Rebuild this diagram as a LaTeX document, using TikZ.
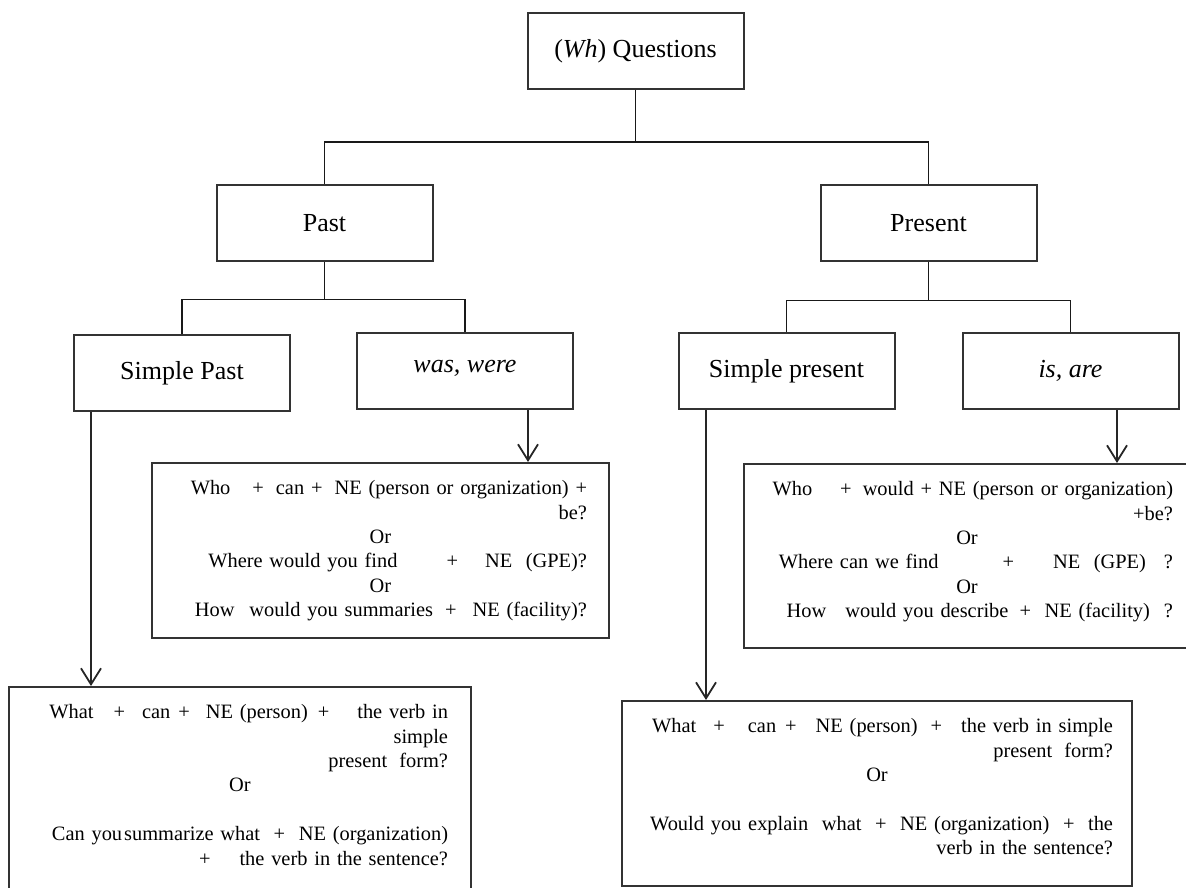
\documentclass[tikz,border=0pt]{standalone}
\usepackage{fontspec}
\setmainfont{Liberation Serif}
\usetikzlibrary{arrows.meta}

\begin{document}
\begin{tikzpicture}[x=0.5pt, y=-0.5pt,
    level/.style={rectangle, draw=black!80, line width=1pt, minimum width=108pt, minimum height=38pt, inner sep=0pt, align=center, font=\fontsize{13}{15}\selectfont},
    qbox/.style={rectangle, draw=black!80, line width=1pt, anchor=north, align=right, inner ysep=8.3pt, text height=7.5pt, font=\fontsize{10.2}{12.2}\selectfont},
    link/.style={line width=0.9pt, black!90},
    arrow/.style={-{Straight Barb[length=8pt, width=10pt]}, line width=0.9pt, black!85}]

    \clip (0,0) rectangle (1186,887);

    % Root
    \node[level] (root) at (635.5,51) {(\textit{Wh}) Questions};

    % Tense
    \node[level] (past) at (324.5,223.5) {Past};
    \node[level] (present) at (928.5,223.5) {Present};

    % Verb forms
    \node[level] (spast) at (182,373) {Simple Past};
    \node[level] (waswere) at (465,371) {\raisebox{4.5pt}{\textit{was, were}}};
    \node[level] (spres) at (786.5,371) {Simple present};
    \node[level] (isare) at (1070.5,371) {\textit{is, are}};

    % Question patterns
    \node[qbox, text width=206.5pt, inner xsep=11pt, text depth=63.2pt] (qwas) at (380.5,462) {%
        \mbox{Who\hspace{11pt}+\hspace{6pt}can +\hspace{6pt}NE (person or organization) +}\\
        be?\\
        \makebox[\linewidth]{Or}\\
        \mbox{Where would you find\hspace{24.5pt}+\hspace{13.5pt}NE\ \ (GPE)?}\\
        \makebox[\linewidth]{Or}\\
        \mbox{How\hspace{7.5pt}would you summaries\hspace{6pt}+\hspace{8pt}NE (facility)?}};

    \node[qbox, text width=206pt, inner xsep=8.5pt, text depth=67.7pt] (qis) at (967,463) {%
        \mbox{Who\hspace{14pt}+\hspace{5.5pt}would + NE (person or organization)}\\
        +be?\\
        \makebox[\linewidth]{Or}\\
        \mbox{Where can we find\hspace{32pt}+\hspace{19.5pt}NE\ \ (GPE)\hspace{9pt}?}\\
        \makebox[\linewidth]{Or}\\
        \mbox{How\hspace{9.5pt}would you describe\hspace{5.5pt}+\ \ NE (facility)\hspace{7pt}?}};

    \node[qbox, text width=208pt, inner xsep=11.5pt, text depth=79.7pt] (qspast) at (240,686) {%
        \mbox{What\hspace{10pt}+\hspace{8.5pt}can\hspace{4pt}+\hspace{8pt}NE (person)\hspace{5pt}+\hspace{14pt}the verb in}\\
        simple\\
        \mbox{present\hspace{6pt}form?}\\
        \makebox[\linewidth]{Or}\\[12.2pt]
        \mbox{Can you\hspace{1pt}summarize what\ \ +\ \ NE (organization)}\\
        \mbox{+\hspace{14.5pt}the verb in the sentence?}};

    \node[qbox, text width=236pt, inner xsep=9.5pt, text depth=68.2pt] (qspres) at (877,700) {%
        \mbox{What\hspace{8.5pt}+\hspace{11.5pt}can\hspace{4.5pt}+\hspace{9.5pt}NE (person)\hspace{6.5pt}+\hspace{9.5pt}the verb in simple}\\
        \mbox{present\hspace{6pt}form?}\\
        \makebox[\linewidth]{Or}\\[12.2pt]
        \mbox{Would you explain\ \ what\ \ +\ \ NE (organization)\ \ +\ \ the}\\
        \mbox{verb in the sentence?}};

    % Tree links
    \draw[link] (root.south) -- ++(0,52) -| (past.north);
    \draw[link] (root.south) -- ++(0,52) -| (present.north);
    \draw[link] (past.south) -- ++(0,37) -| (spast.north);
    \draw[link] (past.south) -- ++(0,37) -| (waswere.north);
    \draw[link] (present.south) -- ++(0,38) -| (spres.north);
    \draw[link] (present.south) -- ++(0,38) -| (isare.north);

    % Arrows to patterns
    \draw[arrow] (91,0 |- spast.south) -- (91,0 |- qspast.north);
    \draw[arrow] (528,0 |- waswere.south) -- (528,0 |- qwas.north);
    \draw[arrow] (706,0 |- spres.south) -- (706,0 |- qspres.north);
    \draw[arrow] (1117,0 |- isare.south) -- (1117,0 |- qis.north);
\end{tikzpicture}
\end{document}
